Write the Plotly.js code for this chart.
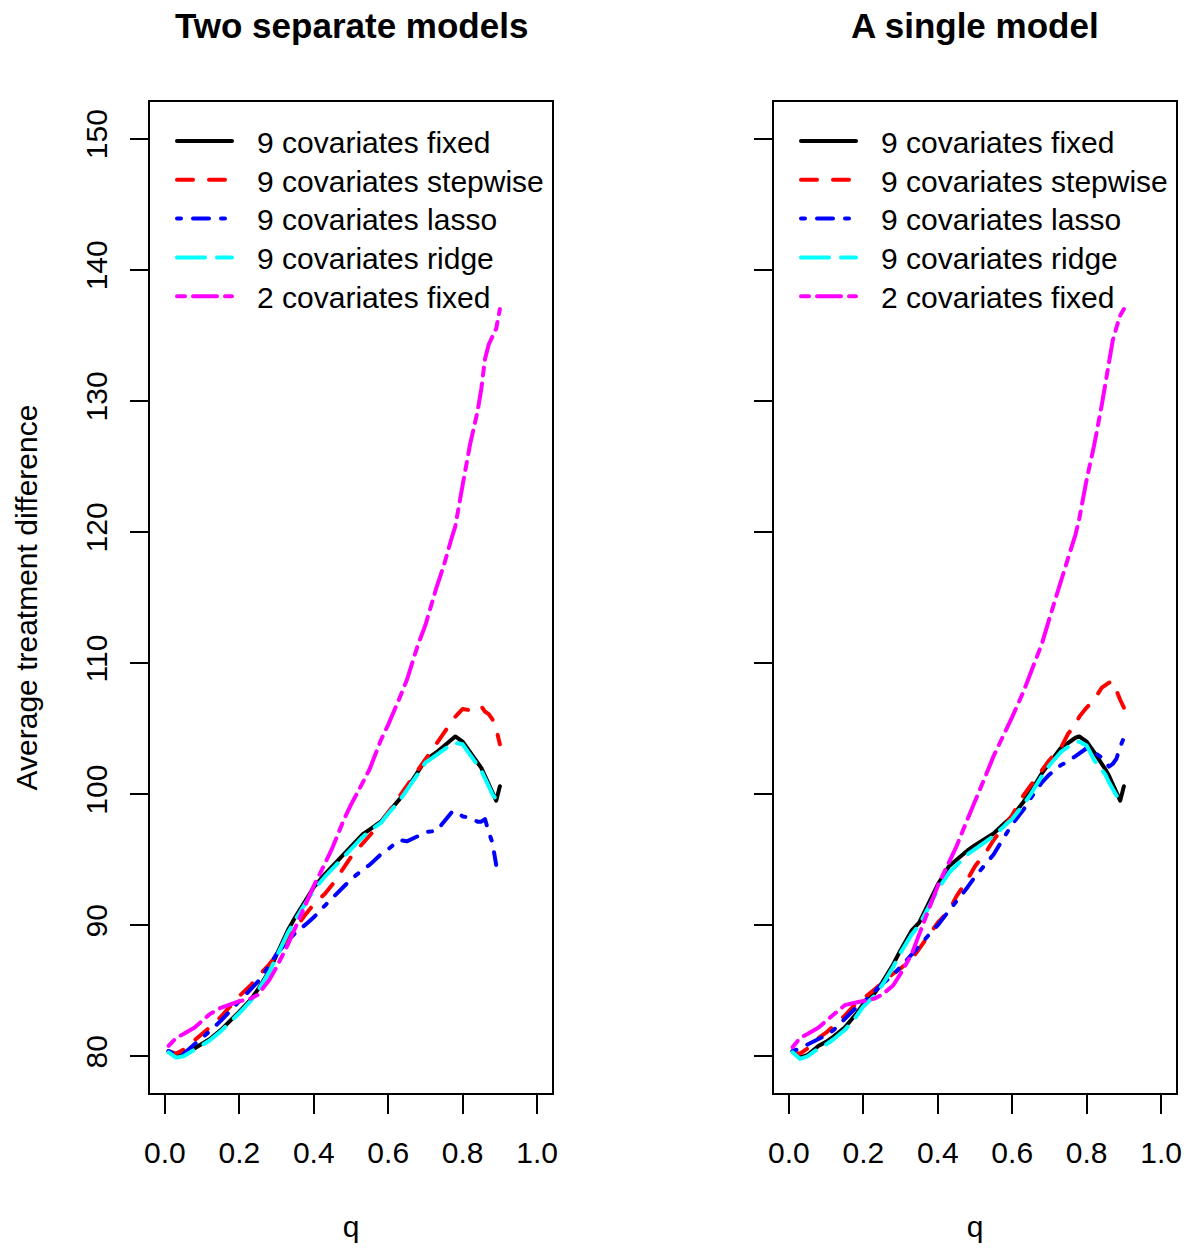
<!DOCTYPE html>
<html>
<head>
<meta charset="utf-8">
<script src="https://cdn.plot.ly/plotly-3.0.1.min.js"></script>
<style>
  html, body { margin: 0; padding: 0; background: #fff; }
  #chart { width: 1188px; height: 1249px; }
  .js-line, .legendlines path { stroke-linecap: round; stroke-linejoin: round; }
</style>
</head>
<body>
<div id="chart"></div>
<script>
// ---- data ----
const q = [0.01, 0.03, 0.05, 0.08, 0.10, 0.12, 0.15, 0.18, 0.20, 0.23, 0.25, 0.28, 0.30, 0.33, 0.35, 0.38, 0.40, 0.43, 0.45, 0.48, 0.50, 0.53, 0.55, 0.58, 0.60, 0.63, 0.65, 0.68, 0.70, 0.73, 0.75, 0.77, 0.78, 0.80, 0.82, 0.84, 0.85, 0.86, 0.87, 0.88, 0.89, 0.90];

const seriesNames = ["9 covariates fixed", "9 covariates stepwise", "9 covariates lasso", "9 covariates ridge", "2 covariates fixed"];

// Panel 1: Two separate models
const sepFixed9 = [80.4, 80.0, 80.1, 80.6, 80.9, 81.3, 82.0, 82.8, 83.4, 84.3, 85.1, 86.5, 87.7, 89.6, 90.6, 92.0, 92.9, 93.9, 94.5, 95.5, 96.1, 96.9, 97.3, 97.9, 98.6, 99.6, 100.4, 101.7, 102.6, 103.2, 103.7, 104.2, 104.4, 104.0, 103.2, 102.4, 102.0, 101.4, 100.7, 100.1, 99.5, 100.6];
const sepStepwise9 = [80.4, 80.2, 80.5, 81.2, 81.7, 82.2, 83.0, 84.0, 84.6, 85.4, 86.1, 87.0, 87.7, 89.0, 89.8, 90.9, 91.6, 92.4, 93.1, 94.3, 95.2, 96.2, 96.8, 97.8, 98.6, 99.8, 100.6, 101.8, 102.6, 103.8, 104.7, 105.5, 105.9, 106.5, 106.4, 106.5, 106.7, 106.3, 106.1, 105.7, 105.0, 103.8];
const sepLasso9 = [80.4, 80.1, 80.2, 80.9, 81.4, 81.9, 82.7, 83.6, 84.3, 85.1, 85.7, 86.9, 87.8, 88.8, 89.4, 90.1, 90.6, 91.5, 92.1, 92.9, 93.5, 94.2, 94.6, 95.4, 95.8, 96.5, 96.4, 96.8, 97.1, 97.2, 97.9, 98.6, 98.7, 98.3, 98.2, 97.9, 97.9, 98.1, 97.1, 96.3, 94.6, null];
const sepRidge9 = [80.3, 79.9, 80.0, 80.5, 80.8, 81.2, 81.9, 82.7, 83.3, 84.2, 85.0, 86.4, 87.6, 89.4, 90.4, 91.8, 92.7, 93.7, 94.3, 95.3, 95.9, 96.7, 97.2, 97.8, 98.5, 99.5, 100.3, 101.6, 102.4, 103.0, 103.4, 103.8, 103.9, 103.8, 103.0, 102.2, 101.8, 101.2, 100.6, 100.0, 99.6, 99.5];
const sepFixed2 = [80.8, 81.4, 81.7, 82.2, 82.7, 83.2, 83.7, 84.0, 84.2, 84.4, 84.7, 85.8, 86.8, 88.5, 89.8, 91.8, 93.0, 94.7, 95.9, 98.0, 99.2, 100.8, 101.9, 104.1, 105.3, 107.3, 108.7, 111.4, 112.9, 115.8, 117.5, 119.5, 120.4, 123.6, 126.7, 129.2, 130.9, 133.2, 134.3, 134.9, 135.5, 137.0];

// Panel 2: A single model
const sinFixed9 = [80.4, 79.9, 80.1, 80.8, 81.1, 81.5, 82.2, 83.2, 84.0, 84.8, 85.6, 87.0, 88.1, 89.6, 90.2, 92.0, 93.1, 94.5, 95.0, 95.7, 96.1, 96.6, 97.0, 97.8, 98.3, 99.4, 100.2, 101.6, 102.4, 103.5, 103.9, 104.3, 104.4, 104.0, 103.2, 102.4, 101.9, 101.4, 100.7, 100.1, 99.5, 100.6];
const sinStepwise9 = [80.3, 80.2, 80.6, 81.4, 81.8, 82.3, 83.1, 84.0, 84.4, 85.1, 85.6, 86.3, 86.7, 87.4, 88.2, 89.4, 90.2, 91.1, 92.2, 93.5, 94.5, 95.6, 96.5, 97.6, 98.4, 99.9, 100.7, 101.9, 102.6, 103.5, 104.6, 105.3, 105.9, 106.6, 107.2, 108.1, 108.3, 108.5, 108.6, 107.8, 107.2, 106.6];
const sinLasso9 = [80.4, 80.6, 80.9, 81.3, 81.6, 82.0, 82.9, 83.7, 84.1, 85.0, 85.5, 86.2, 86.8, 87.7, 88.4, 89.4, 90.0, 91.1, 91.8, 92.9, 93.7, 94.7, 95.4, 96.8, 97.7, 98.8, 99.7, 100.9, 101.5, 102.2, 102.5, 102.9, 103.1, 103.5, 103.2, 102.8, 102.5, 102.1, 102.3, 102.7, 103.6, 104.3];
const sinRidge9 = [80.3, 79.8, 80.0, 80.6, 80.9, 81.3, 82.0, 83.0, 83.8, 84.6, 85.4, 86.8, 87.9, 89.3, 90.0, 91.7, 92.7, 94.0, 94.6, 95.4, 95.8, 96.4, 96.8, 97.6, 98.1, 99.2, 100.0, 101.4, 102.2, 103.2, 103.6, 104.0, 104.0, 103.7, 102.6, 101.9, 101.5, 100.9, 100.4, 99.9, 99.6, 99.3];
const sinFixed2 = [80.7, 81.4, 81.7, 82.2, 82.7, 83.2, 83.9, 84.1, 84.2, 84.4, 84.7, 85.4, 86.3, 87.8, 89.3, 91.5, 93.0, 94.8, 96.0, 98.1, 99.4, 101.5, 102.9, 104.6, 105.9, 107.8, 109.2, 111.5, 113.4, 116.3, 118.0, 119.8, 121.0, 124.0, 126.6, 129.6, 131.3, 133.2, 134.6, 135.6, 136.5, 137.0];

const xTickVals = [0, 0.2, 0.4, 0.6, 0.8, 1.0];
const xTickText = ["0.0", "0.2", "0.4", "0.6", "0.8", "1.0"];
const yTickVals = [80, 90, 100, 110, 120, 130, 140, 150];
const yTickText = ["80", "90", "100", "110", "120", "130", "140", "150"];
const panelTitles = ["Two separate models", "A single model"];

// ---- styles ----
const colors = ["#000000", "#FF0000", "#0000FF", "#00FFFF", "#FF00FF"];
const dashes = ["solid", "16px,16px", "4px,12px,16px,12px", "28px,12px", "8px,8px,24px,8px"];
const FONT = "Liberation Sans, Arial, Helvetica, sans-serif";

const panels = [
  [sepFixed9, sepStepwise9, sepLasso9, sepRidge9, sepFixed2],
  [sinFixed9, sinStepwise9, sinLasso9, sinRidge9, sinFixed2]
];

const traces = [];
panels.forEach((set, p) => {
  set.forEach((ys, i) => {
    traces.push({
      type: "scatter", mode: "lines",
      x: q, y: ys,
      name: seriesNames[i],
      xaxis: p === 0 ? "x" : "x2",
      yaxis: p === 0 ? "y" : "y2",
      legend: p === 0 ? "legend" : "legend2",
      line: { color: colors[i], width: 4, dash: dashes[i] },
      hoverinfo: "x+y+name"
    });
  });
});

const W = 1188, H = 1249;
const px = v => v / W;
const py = v => 1 - v / H;

const xCommon = {
  range: [-0.04, 1.04], tickvals: xTickVals, ticktext: xTickText,
  ticks: "outside", ticklen: 19, tickwidth: 2, tickcolor: "#000",
  showline: true, mirror: true, linewidth: 2, linecolor: "#000",
  showgrid: false, zeroline: false,
  tickfont: { family: FONT, size: 30, color: "#000" },
  ticklabelstandoff: 13,
  title: { text: "q", font: { family: FONT, size: 30, color: "#000" }, standoff: 48 }
};
const yCommon = {
  range: [77.2, 152.8], tickvals: yTickVals, ticktext: yTickText,
  ticks: "outside", ticklen: 18, tickwidth: 2, tickcolor: "#000",
  showline: true, mirror: true, linewidth: 2, linecolor: "#000",
  showgrid: false, zeroline: false, tickangle: -90,
  ticklabelstandoff: 11,
  tickfont: { family: FONT, size: 30, color: "#000" }
};

const legendCommon = {
  font: { family: FONT, size: 30, color: "#000" },
  bgcolor: "rgba(0,0,0,0)", borderwidth: 0, itemwidth: 80,
  xanchor: "left", yanchor: "top", itemclick: false, itemdoubleclick: false,
  tracegroupgap: 0
};

const layout = {
  width: W, height: H,
  margin: { l: 0, r: 0, t: 0, b: 0 },
  paper_bgcolor: "#fff", plot_bgcolor: "#fff",
  font: { family: FONT, color: "#000" },
  showlegend: true,
  xaxis: Object.assign({}, xCommon, { domain: [px(150), px(552)], anchor: "y" }),
  yaxis: Object.assign({}, yCommon, { domain: [py(1093), py(102)], anchor: "x",
    title: { text: "Average treatment difference", font: { family: FONT, size: 30, color: "#000" }, standoff: 34 } }),
  xaxis2: Object.assign({}, xCommon, { domain: [px(774), px(1176)], anchor: "y2" }),
  yaxis2: Object.assign({}, yCommon, { domain: [py(1093), py(102)], anchor: "x2", showticklabels: false }),
  legend: Object.assign({}, legendCommon, { x: px(167), y: py(115) }),
  legend2: Object.assign({}, legendCommon, { x: px(791), y: py(115) }),
  annotations: [
    { text: "<b>" + panelTitles[0] + "</b>", xref: "paper", yref: "paper", x: px(351), y: py(25),
      xanchor: "center", yanchor: "middle", showarrow: false, font: { family: FONT, size: 35, color: "#000" } },
    { text: "<b>" + panelTitles[1] + "</b>", xref: "paper", yref: "paper", x: px(975), y: py(25),
      xanchor: "center", yanchor: "middle", showarrow: false, font: { family: FONT, size: 35, color: "#000" } }
  ]
};

function tidyLegends() {
  // longer line samples, like R's legend
  document.querySelectorAll(".legendlines path").forEach(p => p.setAttribute("d", "M10,0h55"));
  // tighter row spacing (R uses ~1.29 line heights)
  document.querySelectorAll(".scrollbox").forEach(box => {
    const items = Array.from(box.querySelectorAll("g.traces"));
    if (!items.length) return;
    const m = /translate\(\s*([-\d.]+)[ ,]+([-\d.]+)\s*\)/.exec(items[0].getAttribute("transform") || "");
    if (!m) return;
    const x0 = parseFloat(m[1]), y0 = parseFloat(m[2]);
    items.forEach((it, i) => it.setAttribute("transform", "translate(" + x0 + "," + (y0 + i * 38.8) + ")"));
  });
}

Plotly.newPlot("chart", traces, layout, { displayModeBar: false }).then(tidyLegends);
</script>
</body>
</html>
